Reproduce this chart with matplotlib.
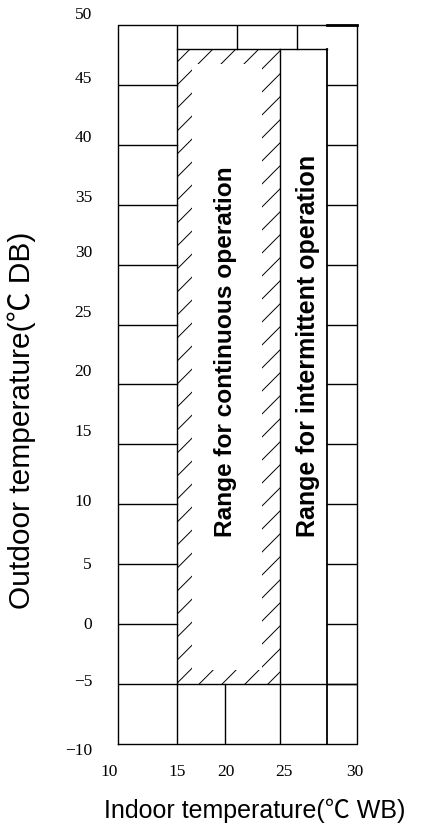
import numpy as np
import matplotlib
matplotlib.use("Agg")
import matplotlib.pyplot as plt
from matplotlib.patches import Rectangle

# frame and grid of the sketch
x_min, x_max = 10, 30
y_min, y_max = -10, 50
left_col = (10, 15)
right_col = (27.5, 30)
grid_rows = [-5, 0, 5, 10, 15, 20, 25, 30, 35, 40, 45]
top_dividers = [20, 25]
bottom_dividers = [19]

# operating ranges
cont_x = (15, 23.6)
inter_x = (23.6, 27.5)
range_y = (-5, 48)

# tick labels (as placed on the sketch)
xtick_pos = [9.3, 15.0, 19.1, 23.9, 29.85]
xtick_lab = ["10", "15", "20", "25", "30"]
ytick_pos = [-10.6, -4.8, -0.1, 4.9, 10.2, 16.0, 21.0, 26.0, 31.0, 35.6, 40.6, 45.5, 50.8]
ytick_lab = ["\u221210", "\u22125", "0", "5", "10", "15", "20", "25", "30", "35", "40", "45", "50"]

sans = ["Liberation Sans", "Noto Sans CJK SC", "DejaVu Sans"]
serif = ["Liberation Serif", "DejaVu Serif"]

fig = plt.figure(figsize=(4.36, 8.34), dpi=100)
ax = fig.add_axes([0.27, 0.108, 0.548, 0.862])
ax.set_xlim(x_min, x_max)
ax.set_ylim(y_min, y_max)
ax.set_axis_off()

lw = 1.0
k = "black"

# outer frame
ax.plot([x_min, x_max, x_max, x_min, x_min], [y_min, y_min, y_max, y_max, y_min],
        color=k, lw=lw, clip_on=False)
ax.plot([right_col[0], x_max], [y_max, y_max], color=k, lw=2.0, clip_on=False)

# left / right columns
for y in grid_rows:
    ax.plot(left_col, [y, y], color=k, lw=lw)
    ax.plot(right_col, [y, y], color=k, lw=lw)
ax.plot([cont_x[0], right_col[1]], [range_y[0], range_y[0]], color=k, lw=lw)

# vertical lines
ax.plot([cont_x[0], cont_x[0]], [y_min, y_max], color=k, lw=lw)
ax.plot([cont_x[1], cont_x[1]], [y_min, range_y[1]], color=k, lw=lw)
ax.plot([inter_x[1], inter_x[1]], [y_min, range_y[1]], color=k, lw=1.3)
for x in top_dividers:
    ax.plot([x, x], [range_y[1], y_max], color=k, lw=lw)
for x in bottom_dividers:
    ax.plot([x, x], [y_min, range_y[0]], color=k, lw=lw)
ax.plot([cont_x[0], inter_x[1]], [range_y[1], range_y[1]], color=k, lw=lw)

# hatched border of the continuous range
clip = Rectangle((cont_x[0], range_y[0]), cont_x[1] - cont_x[0], range_y[1] - range_y[0],
                 fill=False, lw=0)
ax.add_patch(clip)
step = 1.92
for c in np.arange(range_y[0] - cont_x[1] - 0.9, range_y[1] - cont_x[0] + step, step):
    ln, = ax.plot([cont_x[0] - 1, cont_x[1] + 1], [cont_x[0] - 1 + c, cont_x[1] + 1 + c],
                  color=k, lw=0.7, zorder=1)
    ln.set_clip_path(clip)
ax.add_patch(Rectangle((cont_x[0] + 1.25, range_y[0] + 1.2),
                       cont_x[1] - cont_x[0] - 2.75, range_y[1] - range_y[0] - 2.45,
                       facecolor="white", edgecolor="none", zorder=1.5))

ax.text(19.0, 22.7, "Range for continuous operation", rotation=90,
        ha="center", va="center", fontsize=17.6, fontweight="bold", family=sans, zorder=3)
ax.text(25.9, 23.2, "Range for intermittent operation", rotation=90,
        ha="center", va="center", fontsize=18, fontweight="bold", family=sans, zorder=3)

# tick labels sit where the sketch put them, some beyond the frame
for x, t in zip(xtick_pos, xtick_lab):
    ax.text(x, -12.35, t, ha="center", va="center", fontsize=12.5, family=serif, clip_on=False)
for y, t in zip(ytick_pos, ytick_lab):
    ax.text(7.85, y, t, ha="right", va="center", fontsize=12.5, family=serif, clip_on=False)

fig.text(0.05, 0.496, "Outdoor temperature(\u2103 DB)", rotation=90, ha="center", va="center",
         fontsize=21.5, family=sans)
fig.text(0.584, 0.028, "Indoor temperature(\u2103 WB)", ha="center", va="center",
         fontsize=18, family=sans)

fig.savefig("out.png", dpi=100)
